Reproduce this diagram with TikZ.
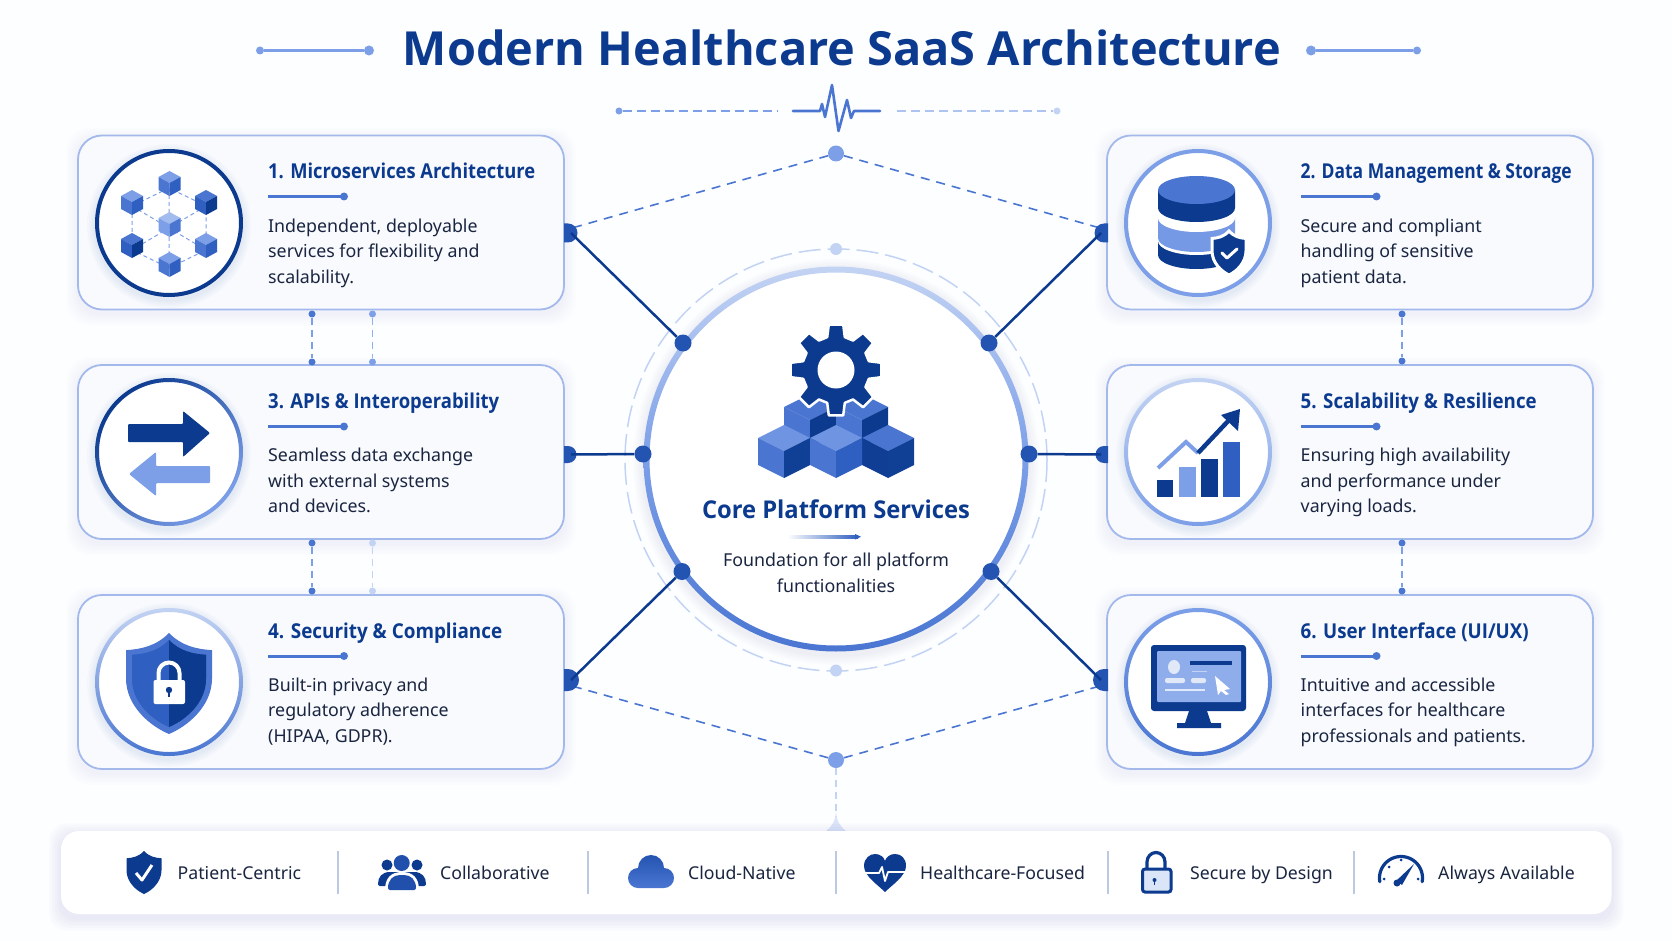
\documentclass[tikz,border=0pt]{standalone}
\usepackage{fontspec}
\setmainfont{Noto Sans}
\newfontfamily\headfont{Open Sans}
\usetikzlibrary{calc}
\definecolor{navy}{HTML}{0B3A8F}
\definecolor{royal}{HTML}{2F5FC0}
\definecolor{mid}{HTML}{4A76D2}
\definecolor{lightb}{HTML}{7C9FE8}
\definecolor{paleb}{HTML}{C3D3F3}
\definecolor{ink}{HTML}{1A2540}
\definecolor{edgeb}{HTML}{A3B9EB}
\definecolor{cardfill}{HTML}{F8FAFE}
\definecolor{bgc}{HTML}{FDFEFF}
\definecolor{sepc}{HTML}{BCC9E2}
\tikzset{
  cardbox/.style={draw=edgeb,line width=1.8pt,fill=cardfill,rounded corners=24pt,minimum width=486pt,minimum height=174pt,inner sep=0pt},
  jdot/.style={circle,fill=royal!70!navy,inner sep=0pt,minimum size=17pt},
  hubdot/.style={circle,fill=lightb,inner sep=0pt,minimum size=16pt},
  ringdot/.style={circle,fill=paleb,inner sep=0pt,minimum size=12pt},
  vdot/.style={circle,fill=#1,inner sep=0pt,minimum size=7pt},
  solidlink/.style={draw=navy,line width=2.5pt},
  dashlink/.style={draw=mid,line width=1.6pt,dash pattern=on 9pt off 7pt},
  vlink/.style={draw=#1,line width=1.5pt,dash pattern=on 7pt off 5pt},
  cardtitle/.style={anchor=base west,inner sep=0pt,text=navy,font=\fontsize{20.5}{25}\selectfont\headfont\bfseries},
  cardbody/.style={anchor=north west,inner sep=0pt,text=ink,align=left,font=\fontsize{17.8}{25.5}\selectfont},
  centerbody/.style={anchor=north,inner sep=0pt,text=ink,align=center,font=\fontsize{17.8}{25.7}\selectfont},
  chiptext/.style={anchor=base west,inner sep=0pt,text=ink,font=\fontsize{17.7}{22}\selectfont},
  pipe/.style={draw=sepc,line width=1.5pt},
}
\newcommand\fitw[2]{\resizebox{#1pt}{\height}{#2}}
\newcommand\softshadow[5]{%
  \foreach \k in {1,...,6}{\fill[navy,opacity=.007,rounded corners=#5pt] (#1-\k*2,#2-\k*2+4) rectangle (#3+\k*2,#4+\k*2+4);}}
\newcommand\titlerule[2]{%
  \fill[mid] (#1,#2-1.5) rectangle (#1+74,#2+1.5);
  \fill[mid] (#1+76,#2) circle[radius=4];}
\newcommand\iconring[6]{% name cx cy c1 c2 angle
  \foreach \k in {1,...,5}{\fill[navy,opacity=.014] (#2,#3+3) circle[radius=74+\k*1.6];}
  \node[circle,fill=white,inner sep=0pt,minimum size=146pt] (#1) at (#2,#3) {};
  \path[even odd rule,top color=#4,bottom color=#5,shading angle=#6] (#2,#3) circle[radius=74] (#2,#3) circle[radius=70];}
\newcommand\cubeicon[8]{% cx ty w d s top left right
  \fill[#6] (#1,#2) -- (#1+#3,#2+#4) -- (#1,#2+2*#4) -- (#1-#3,#2+#4) -- cycle;
  \fill[#7] (#1-#3,#2+#4) -- (#1,#2+2*#4) -- (#1,#2+2*#4+#5) -- (#1-#3,#2+#4+#5) -- cycle;
  \fill[#8] (#1+#3,#2+#4) -- (#1,#2+2*#4) -- (#1,#2+2*#4+#5) -- (#1+#3,#2+#4+#5) -- cycle;}
\newcommand\shieldp[4]{% cx top halfw h -> path
  [shift={(#1,#2)},x=#3pt,y=-#4pt] (0,0) .. controls (.3,.13) and (.65,.16) .. (1,.17) -- (1,.45) .. controls (1,.72) and (.45,.92) .. (0,1) .. controls (-.45,.92) and (-1,.72) .. (-1,.45) -- (-1,.17) .. controls (-.65,.16) and (-.3,.13) .. (0,0) -- cycle}
\newcommand\edgedotL[3]{\fill[royal!70!navy] (564,#2-#3) -- (568,#2-#3) arc[start angle=-90,end angle=90,radius=#3] -- (564,#2+#3) -- cycle; \coordinate (#1) at (571,#2);}
\newcommand\edgedotR[3]{\fill[royal!70!navy] (1108,#2-#3) -- (1104,#2-#3) arc[start angle=-90,end angle=-270,radius=#3] -- (1108,#2+#3) -- cycle; \coordinate (#1) at (1101,#2);}
\begin{document}
\begin{tikzpicture}[x=1pt,y=-1pt]
\useasboundingbox (0,0) rectangle (1672,941);
\fill[bgc] (0,0) rectangle (1672,941);

% ---- header
\node[anchor=base,inner sep=0pt,text=navy,font=\fontsize{47}{54}\selectfont\headfont\bfseries] (maintitle) at (842,65.5) {\fitw{878}{Modern Healthcare SaaS Architecture}};
\node[circle,fill=lightb,inner sep=0pt,minimum size=8pt] (hl1) at (260,50.5) {};
\node[circle,fill=lightb,inner sep=0pt,minimum size=10pt] (hl2) at (369,50.5) {};
\draw[lightb,line width=2.5pt] (hl1) -- (hl2);
\node[circle,fill=lightb,inner sep=0pt,minimum size=10pt] (hr1) at (1311,50.5) {};
\node[circle,fill=lightb,inner sep=0pt,minimum size=8pt] (hr2) at (1417,50.5) {};
\draw[lightb,line width=2.5pt] (hr1) -- (hr2);
\node[circle,fill=lightb,inner sep=0pt,minimum size=7pt] (el) at (619,111) {};
\coordinate (elend) at (778,111);
\draw[lightb,line width=1.8pt,dash pattern=on 9pt off 5pt] (el) -- (elend);
\node[circle,fill=paleb,inner sep=0pt,minimum size=7pt] (er) at (1057,111) {};
\coordinate (erend) at (897,111);
\draw[paleb!70!lightb,line width=1.8pt,dash pattern=on 9pt off 5pt] (erend) -- (er);
\draw[mid,line width=2.6pt,line join=round,line cap=round] (793,111) -- (820,111) -- (822,104) -- (825,117) -- (832,85) -- (838.5,131) -- (847,100) -- (851,118) -- (854,111) -- (880,111);

% ---- outer dashed ring
\draw[paleb,line width=1.5pt,dash pattern=on 22pt off 7pt] (836,460) circle[radius=211];

% ---- cards
\foreach \cx in {321,1350}{\foreach \cy in {222.5,452,682}{\softshadow{\cx-243}{\cy-87}{\cx+243}{\cy+87}{24}}}
\node[cardbox] (c1) at (321,222.5) {};
\node[cardbox] (c2) at (1350,222.5) {};
\node[cardbox] (c3) at (321,452) {};
\node[cardbox] (c5) at (1350,452) {};
\node[cardbox] (c4) at (321,682) {};
\node[cardbox] (c6) at (1350,682) {};

% ---- vertical dashed links
\node[vdot=mid] (v1a) at (312,314) {}; \node[vdot=mid] (v1b) at (312,362) {};
\draw[vlink=lightb] (v1a) -- (v1b);
\node[vdot=lightb] (v2a) at (372.5,314) {}; \node[vdot=lightb] (v2b) at (372.5,362) {};
\draw[vlink=lightb!70!paleb] (v2a) -- (v2b);
\node[vdot=mid] (v3a) at (312,543) {}; \node[vdot=mid] (v3b) at (312,591) {};
\draw[vlink=lightb] (v3a) -- (v3b);
\node[vdot=paleb] (v4a) at (372.5,543) {}; \node[vdot=paleb] (v4b) at (372.5,591) {};
\draw[vlink=paleb] (v4a) -- (v4b);
\node[vdot=mid] (v5a) at (1402,314) {}; \node[vdot=mid] (v5b) at (1402,361) {};
\draw[vlink=lightb] (v5a) -- (v5b);
\node[vdot=mid] (v6a) at (1402,543) {}; \node[vdot=mid] (v6b) at (1402,591) {};
\draw[vlink=lightb] (v6a) -- (v6b);

% ---- hub dots + dashed links
\node[hubdot] (top) at (836,153.5) {};
\node[hubdot] (bot) at (836,760) {};
\coordinate (d1) at (572,228);
\coordinate (d2) at (1100,228);
\coordinate (d4) at (572,686);
\coordinate (d6) at (1100,686);
\draw[dashlink] (top) -- (d1);
\draw[dashlink] (top) -- (d2);
\draw[dashlink] (bot) -- (d4);
\draw[dashlink] (bot) -- (d6);
\edgedotL{e1}{233}{9.5}
\edgedotL{e3}{454.5}{8.5}
\edgedotL{e4}{680}{11}
\edgedotR{e2}{233}{9.5}
\edgedotR{e5}{454.5}{8.5}
\edgedotR{e6}{680}{11}

% ---- central circle
\foreach \k in {1,...,5}{\fill[navy,opacity=.012] (836,462) circle[radius=193+\k*2];}
\node[circle,fill=white,inner sep=0pt,minimum size=380pt] (core) at (836,459) {};
\path[even odd rule,top color=paleb,bottom color=mid,middle color=lightb] (836,459) circle[radius=192.5] (836,459) circle[radius=186.5];
\node[ringdot] (rt) at (836,249) {};
\node[ringdot] (rb) at (836,670.5) {};
\node[jdot] (j1) at (683,343) {};
\node[jdot] (j2) at (989,343) {};
\node[jdot] (j3) at (643,454) {};
\node[jdot] (j5) at (1029,454) {};
\node[jdot] (j4) at (682,571.5) {};
\node[jdot] (j6) at (991,571.5) {};
\draw[solidlink] (e1) -- (j1);
\draw[solidlink] (e2) -- (j2);
\draw[solidlink] (e3) -- (j3);
\draw[solidlink] (e5) -- (j5);
\draw[solidlink] (e4) -- (j4);
\draw[solidlink] (e6) -- (j6);

% ---- central icon
\cubeicon{810}{394}{26}{13}{27}{mid}{mid}{navy}
\cubeicon{862}{394}{26}{13}{27}{mid}{mid}{navy}
\cubeicon{784}{425}{26}{13}{27}{lightb!75!mid}{mid}{navy!85!royal}
\cubeicon{888}{425}{26}{13}{27}{mid}{navy!90!royal}{navy!85!royal}
\cubeicon{836}{425}{26}{13}{27}{lightb!75!mid}{mid}{royal}
\begin{scope}[shift={(836,370)}]
\path[fill=navy,draw=white,line width=2.5pt,line join=round] (105:34)
  \foreach \a in {90,45,...,-225}{ -- (\a+15:34) -- (\a+9:46) -- (\a-9:46) -- (\a-15:34)} -- cycle;
\fill[white] (0,0) circle[radius=18.5];
\end{scope}
\node[anchor=base,inner sep=0pt,text=navy,font=\fontsize{24.5}{30}\selectfont\headfont\bfseries] (coret) at (836,518) {\fitw{268}{Core Platform Services}};
\path[left color=white,right color=royal] (787,535.5) rectangle (858,538);
\fill[royal] (855,534) -- (861,536.8) -- (855,539.5) -- cycle;
\node[centerbody] (cored) at (836,550.5) {\rule{0pt}{16pt}Foundation for all platform\\functionalities};

% ---- icon 1
\iconring{i1}{169}{223}{navy}{navy}{0}
\draw[lightb,line width=1pt,dash pattern=on 4pt off 3pt]
  (169,188) -- (132,206) -- (132,250) -- (169,268) -- (206,250) -- (206,206) -- cycle
  (169,188) -- (169,268) (132,206) -- (206,250) (206,206) -- (132,250);
\cubeicon{169.5}{171}{11}{6}{13}{lightb}{mid}{royal}
\cubeicon{132}{190}{11}{6}{13}{lightb}{mid}{royal}
\cubeicon{206}{190}{11}{6}{13}{mid}{royal}{navy}
\cubeicon{169.5}{212}{11}{6}{13}{lightb!70!white}{lightb}{mid}
\cubeicon{132}{233}{11}{6}{13}{mid}{royal}{navy}
\cubeicon{206}{233}{11}{6}{13}{lightb}{mid}{royal}
\cubeicon{169.5}{252}{11}{6}{13}{lightb}{mid}{royal}

% ---- icon 2
\iconring{i2}{1198}{223}{lightb}{lightb}{0}
\begin{scope}
\fill[navy] (1158,255) arc[start angle=180,end angle=360,x radius=38.5,y radius=-14] -- (1235,240) -- (1158,240) -- cycle;
\fill[white] (1158,241) arc[start angle=180,end angle=360,x radius=38.5,y radius=-14] -- (1235,236) -- (1158,236) -- cycle;
\fill[lightb!85!mid] (1158,217) arc[start angle=180,end angle=360,x radius=38.5,y radius=-14] -- (1235,238) arc[start angle=360,end angle=180,x radius=38.5,y radius=-14] -- cycle;
\fill[white] (1158,213) arc[start angle=180,end angle=360,x radius=38.5,y radius=-14] -- (1235,218) arc[start angle=360,end angle=180,x radius=38.5,y radius=-14] -- cycle;
\fill[navy] (1158,190) -- (1158,208) arc[start angle=180,end angle=360,x radius=38.5,y radius=-14] -- (1235,190) -- cycle;
\fill[mid] (1196.5,190) ellipse[x radius=38.5,y radius=14];
\end{scope}
\path[fill=navy,draw=white,line width=3pt] \shieldp{1229}{231}{17}{44};
\draw[white,line width=3pt,line cap=round,line join=round] (1222,253) -- (1227,258) -- (1237,249);

% ---- icon 3
\iconring{i3}{169}{452}{navy}{lightb}{45}
\fill[navy,rounded corners=1pt] (128,424) -- (183,424) -- (183,411) -- (210,433) -- (183,457) -- (183,442) -- (128,442) -- cycle;
\fill[lightb,rounded corners=1pt] (210,466) -- (156,466) -- (156,452) -- (129,474) -- (156,496) -- (156,483) -- (210,483) -- cycle;

% ---- icon 4
\iconring{i4}{169}{682}{paleb}{mid}{0}
\fill[mid] \shieldp{169}{633}{43}{101};
\fill[royal] \shieldp{169}{640}{37}{87};
\begin{scope}
\clip (169,600) rectangle (230,760);
\fill[navy] \shieldp{169}{640}{37}{87};
\end{scope}
\draw[white,line width=4pt] (158.5,682) -- (158.5,673) arc[start angle=180,end angle=0,radius=10.5,y radius=-10.5] -- (179.5,682);
\fill[white,rounded corners=2pt] (153.5,680) rectangle (185,704);
\fill[navy] (169,690) circle[radius=3.2];
\fill[navy] (167.8,690) rectangle (170.2,697);

% ---- icon 5
\iconring{i5}{1198}{452}{paleb}{lightb}{0}
\fill[navy] (1157,480) rectangle (1173,497);
\fill[lightb] (1179,467) rectangle (1196,497);
\fill[navy] (1201,459) rectangle (1218,497);
\fill[royal] (1223,442) rectangle (1240,497);
\draw[lightb,line width=4pt,line join=miter] (1158,468) -- (1186,442) -- (1198,453);
\draw[navy,line width=4.5pt] (1198,453) -- (1230,419);
\fill[navy] (1240,409) -- (1238,431) -- (1221,415) -- cycle;

% ---- icon 6
\iconring{i6}{1198}{682}{lightb}{mid}{0}
\fill[navy,rounded corners=3pt] (1151,645) rectangle (1246,711);
\fill[lightb!85!white,rounded corners=1pt] (1157,651) rectangle (1241,702);
\fill[navy] (1189,711) -- (1207,711) -- (1211,723) -- (1221,723) -- (1221,728) -- (1177,728) -- (1177,723) -- (1185,723) -- cycle;
\fill[paleb!50!white] (1174,667) ellipse[x radius=6,y radius=7];
\fill[paleb!50!white,rounded corners=2pt] (1165,678) rectangle (1185,683);
\fill[navy] (1190,661) rectangle (1232,665);
\fill[paleb] (1192,670.5) rectangle (1207,671.5);
\fill[paleb!50!white,rounded corners=2pt] (1191,678) rectangle (1206,683);
\fill[paleb!50!white] (1165,689) rectangle (1205,691);
\fill[white] (1215,676) -- (1230,689) -- (1224,690) -- (1229,694) -- (1226,695) -- (1221,691) -- (1218,695) -- cycle;

% ---- card texts
\node[cardtitle] (t1) at (268,178.5) {\fitw{267}{1. Microservices Architecture}};
\titlerule{268}{196.5}
\node[cardbody] (d1text) at (268,216) {\rule{0pt}{16pt}Independent, deployable\\services for flexibility and\\scalability.};
\node[cardtitle] (t2) at (1300.5,178.5) {\fitw{271}{2. Data Management \& Storage}};
\titlerule{1300.5}{196.5}
\node[cardbody] (d2text) at (1300.5,216) {\rule{0pt}{16pt}Secure and compliant\\handling of sensitive\\patient data.};
\node[cardtitle] (t3) at (268,408.5) {\fitw{231}{3. APIs \& Interoperability}};
\titlerule{268}{426.5}
\node[cardbody] (d3text) at (268,445.5) {\rule{0pt}{16pt}Seamless data exchange\\with external systems\\and devices.};
\node[cardtitle] (t5) at (1300.5,408.5) {\fitw{236}{5. Scalability \& Resilience}};
\titlerule{1300.5}{426.5}
\node[cardbody] (d5text) at (1300.5,445.5) {\rule{0pt}{16pt}Ensuring high availability\\and performance under\\varying loads.};
\node[cardtitle] (t4) at (268,638) {\fitw{234}{4. Security \& Compliance}};
\titlerule{268}{656}
\node[cardbody] (d4text) at (268,675) {\rule{0pt}{16pt}Built-in privacy and\\regulatory adherence\\(HIPAA, GDPR).};
\node[cardtitle] (t6) at (1300.5,638) {\fitw{228}{6. User Interface (UI/UX)}};
\titlerule{1300.5}{656}
\node[cardbody] (d6text) at (1300.5,675) {\rule{0pt}{16pt}Intuitive and accessible\\interfaces for healthcare\\professionals and patients.};

% ---- bottom bar
\coordinate (barlink) at (836,831);
\draw[paleb,line width=1.4pt,dash pattern=on 7pt off 5pt] (bot) -- (barlink);
\fill[paleb!60!white] (826,831) .. controls (832,826) and (835,822) .. (836,812) .. controls (837,822) and (840,826) .. (846,831) -- cycle;
\softshadow{61}{831}{1611.5}{914}{18}
\foreach \k in {1,...,4}{\fill[navy,opacity=.006,rounded corners=18pt] (61-\k*3,831-\k*3+5) rectangle (1611.5+\k*3,914+\k*3+5);}
\node[rounded corners=18pt,fill=white,minimum width=1550.5pt,minimum height=83pt,inner sep=0pt] (bar) at (836.25,872.5) {};
\draw[pipe] (338,851) -- (338,894);
\draw[pipe] (588,851) -- (588,894);
\draw[pipe] (836,851) -- (836,894);
\draw[pipe] (1108,851) -- (1108,894);
\draw[pipe] (1354,851) -- (1354,894);
\node[chiptext] (b1) at (177.5,879.5) {Patient-Centric};
\node[chiptext] (b2) at (440,879.5) {Collaborative};
\node[chiptext] (b3) at (688,879.5) {Cloud-Native};
\node[chiptext] (b4) at (920,879.5) {Healthcare-Focused};
\node[chiptext] (b5) at (1190,879.5) {Secure by Design};
\node[chiptext] (b6) at (1438,879.5) {Always Available};
% chip icons
\fill[navy] \shieldp{144}{851}{17.5}{43};
\draw[white,line width=3pt,line join=round] (136,873) -- (142,880) -- (152,865);
% people
\fill[navy] (387,865) circle[radius=5.5];
\fill[navy] (417,865) circle[radius=5.5];
\fill[navy,rounded corners=2pt] (378,886) .. controls (378,877) and (382,872) .. (392,872) -- (412,872) .. controls (422,872) and (426,877) .. (426,886) -- (417,886) -- (387,886) -- cycle;
\fill[white] (385,890) .. controls (385,878) and (391,872) .. (402,872) .. controls (413,872) and (419,878) .. (419,890) -- cycle;
\fill[royal!60!navy] (401.7,863) circle[radius=8];
\fill[royal!60!navy,rounded corners=2pt] (388,890) .. controls (388,880) and (393,875) .. (402,875) .. controls (411,875) and (416,880) .. (416,890) -- cycle;
% cloud
\path[top color=royal!70!navy,bottom color=mid] (651,868) circle[radius=13] (638,878) circle[radius=10] (664,878) circle[radius=10] (638,875) -- (664,875) -- (664,888) -- (638,888) -- cycle;
% heart
\fill[navy] (885,892) .. controls (878,885) and (864,876) .. (864,866) .. controls (864,858) and (870,854) .. (875,854) .. controls (880,854) and (884,857) .. (885,861) .. controls (886,857) and (890,854) .. (895,854) .. controls (901,854) and (906,858) .. (906,866) .. controls (906,876) and (892,885) .. (885,892) -- cycle;
\draw[white,line width=1.8pt,line join=round] (864,873) -- (879,873) -- (882,867) -- (885,881) -- (888,872) -- (906,872);
% lock
\draw[navy,line width=3.2pt] (1147,869) -- (1147,862) arc[start angle=180,end angle=0,x radius=9,y radius=-9.5] -- (1165,869);
\path[fill=paleb!60!white,draw=navy,line width=3pt,rounded corners=2.5pt] (1142.5,869) rectangle (1171,892);
\fill[navy] (1154.5,880) circle[radius=2];
\fill[navy] (1154,880) rectangle (1155,885);
% gauge
\draw[navy,line width=3.2pt,line cap=round] plot[domain=-10:190,samples=40] ({1401+21.5*cos(\x)},{878-21.5*sin(\x)});
\fill[navy] (1414,864) -- (1402,885) -- (1396,881) -- cycle;
\fill[navy] (1397,883) circle[radius=3.5];
\fill[navy] (1401,860) circle[radius=1.5];
\fill[navy] (1389,867) circle[radius=1.5];
\fill[navy] (1384,879) circle[radius=1.5];
\fill[navy] (1418,879) circle[radius=1.5];
\end{tikzpicture}
\end{document}
